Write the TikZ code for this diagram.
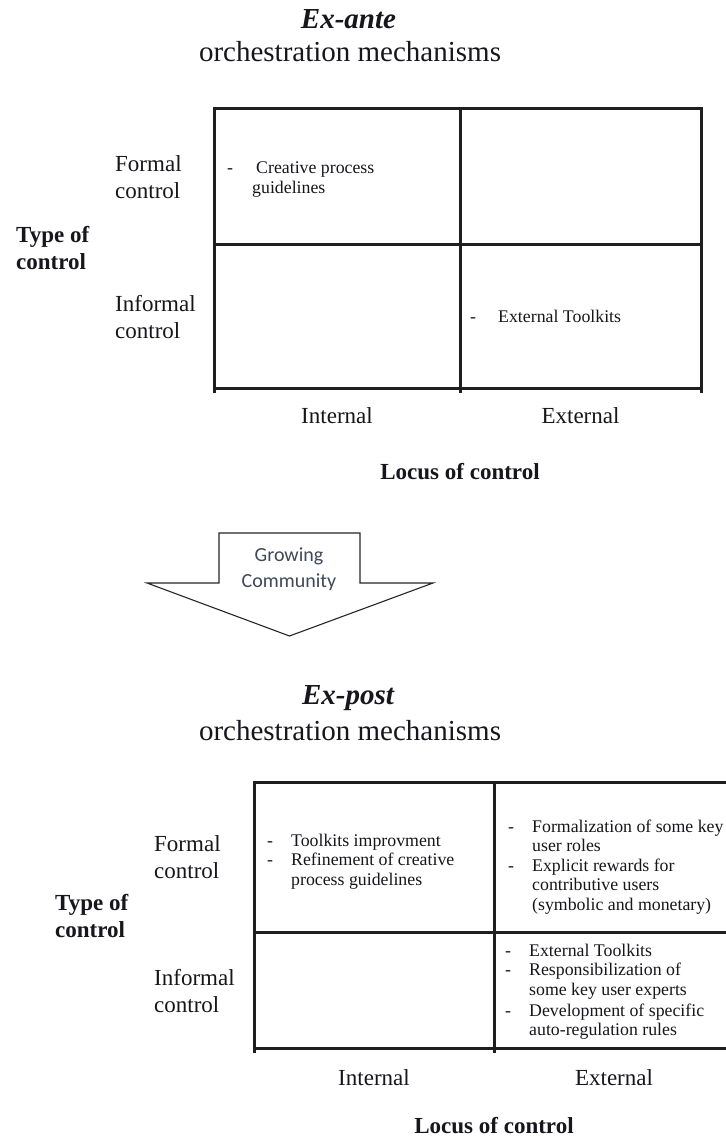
\documentclass[tikz,border=0pt]{standalone}
\usepackage{fontspec}
\setmainfont{Liberation Serif}
\newfontfamily\calibfont{Carlito}
\newcommand{\mystack}[1]{\begin{tabular}[t]{@{}l@{}}#1\end{tabular}}
\newcommand{\mycstack}[1]{\begin{tabular}[t]{@{}c@{}}#1\end{tabular}}
\newcommand{\mylist}[2]{\begin{tabular}[t]{@{}p{#1}@{}l@{}}#2\end{tabular}}
\definecolor{inkc}{RGB}{22,22,28}
\definecolor{arrtxtc}{RGB}{62,72,88}
\begin{document}
\begin{tikzpicture}[x=1pt,y=-1pt,
  lbl/.style={font=\fontsize{23}{27}\selectfont, text=inkc, inner sep=0pt, anchor=base west},
  blbl/.style={lbl, font=\fontsize{23}{27}\selectfont\bfseries},
  axlbl/.style={lbl, anchor=base},
  ttl/.style={font=\fontsize{29}{34}\selectfont, text=inkc, inner sep=0pt, anchor=base},
  bittl/.style={ttl, font=\fontsize{29}{34}\selectfont\bfseries\itshape},
  celltxt/.style={font=\fontsize{17.8}{19.5}\selectfont, text=inkc, inner sep=0pt, anchor=base west},
  gridline/.style={line width=3pt, draw=black!88},
  arrowshape/.style={draw=black!85, line width=1.1pt, fill=white, line join=miter},
  arrtxt/.style={font=\calibfont\fontsize{20}{26}\selectfont, text=arrtxtc, inner sep=0pt, anchor=base}
]
\fill[white] (0,0) rectangle (725,1139);
\useasboundingbox (0,0) rectangle (725,1139);

% ---------- top: ex-ante ----------
\node[bittl] (exante) at (348.5,29) {Ex-ante};
\node[ttl] (orch1) at (350,62) {orchestration mechanisms};

\draw[gridline] (214,393) -- (214,109) -- (701,109) -- (701,393);
\draw[gridline] (214,245) -- (701,245);
\draw[gridline] (214,388) -- (701,388);
\draw[gridline] (460,109) -- (460,393);

\node[lbl] (formal1) at (115,172) {\mystack{Formal\\control}};
\node[blbl] (type1) at (16,243) {\mystack{Type of\\control}};
\node[lbl] (informal1) at (115,311) {\mystack{Informal\\control}};
\node[axlbl] (int1) at (337,423) {Internal};
\node[axlbl] (ext1) at (580.5,423) {External};
\node[blbl, anchor=base] (locus1) at (460,479) {Locus of control};

\node[celltxt] (c11) at (227,174) {\mylist{29pt}{- & Creative process\\ & \hspace{-4pt}guidelines}};
\node[celltxt] (c12) at (470,322) {\mylist{28pt}{- & External Toolkits}};

% ---------- arrow ----------
\draw[arrowshape] (219,533) -- (360,533) -- (360,583) -- (433,583) -- (289.5,636) -- (147,583) -- (219,583) -- cycle;
\node[arrtxt] (grow) at (289,561) {\mycstack{Growing\\Community}};

% ---------- bottom: ex-post ----------
\node[bittl] (expost) at (348,704) {Ex-post};
\node[ttl] (orch2) at (350,740) {orchestration mechanisms};

\draw[gridline] (254,1053) -- (254,782) -- (740,782);
\draw[gridline] (254,932) -- (740,932);
\draw[gridline] (254,1048) -- (740,1048);
\draw[gridline] (494,782) -- (494,1053);
\draw[gridline] (734,782) -- (734,1053);

\node[lbl] (formal2) at (154,851) {\mystack{Formal\\control}};
\node[blbl] (type2) at (55,910) {\mystack{Type of\\control}};
\node[lbl] (informal2) at (154,985) {\mystack{Informal\\control}};
\node[axlbl] (int2) at (374,1085) {Internal};
\node[axlbl] (ext2) at (614,1085) {External};
\node[blbl, anchor=base] (locus2) at (494,1133) {Locus of control};

\node[celltxt] (c21) at (267,846) {\mylist{24pt}{- & Toolkits improvment\\ - & Refinement of creative\\ & process guidelines}};
\node[celltxt] (c22) at (508,832) {\mylist{24pt}{- & Formalization of some key\\ & user roles\\ - & Explicit rewards for\\ & contributive users\\ & (symbolic and monetary)}};
\node[celltxt] (c23) at (505,956) {\mylist{24pt}{- & External Toolkits\\ - & Responsibilization of\\ & some key user experts\\[1.5pt] - & Development of specific\\ & auto-regulation rules}};
\end{tikzpicture}
\end{document}
